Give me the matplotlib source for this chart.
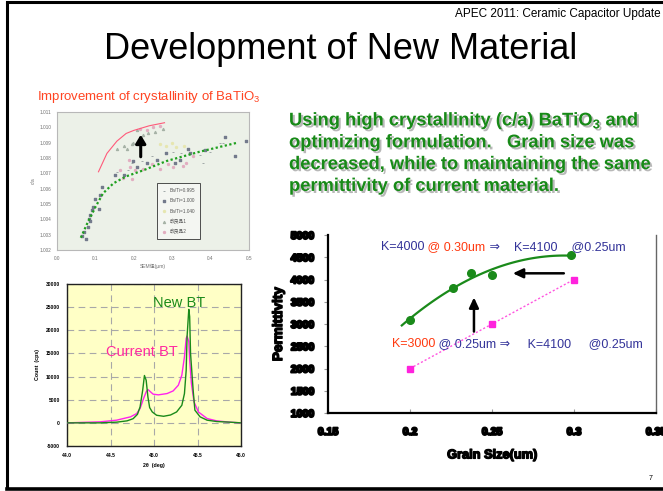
import numpy as np
import matplotlib
matplotlib.use("Agg")
import matplotlib.pyplot as plt
import matplotlib.patheffects as pe

plt.rcParams["font.family"] = ["Liberation Sans", "DejaVu Sans", "Noto Sans CJK JP"]
plt.rcParams["mathtext.fontset"] = "custom"
plt.rcParams["mathtext.rm"] = "Liberation Sans"
plt.rcParams["mathtext.bf"] = "Liberation Sans:bold"

W, H = 663, 491

# ---------------- c/a versus SEM grain size ----------------
ca_labels = ["Ba/Ti=0.995", "Ba/Ti=1.000", "Ba/Ti=1.040", "改良品1", "改良品2"]
ca_x_0995 = [0.156, 0.186, 0.195, 0.221, 0.247, 0.303, 0.324, 0.372, 0.398, 0.424, 0.433, 0.381]
ca_y_0995 = [1.0071, 1.0072, 1.0077, 1.0078, 1.0081, 1.0084, 1.0083, 1.0082, 1.0084, 1.0090, 1.0090, 1.0077]
ca_x_1000 = [0.065, 0.071, 0.076, 0.080, 0.083, 0.085, 0.087, 0.092, 0.095, 0.100, 0.109, 0.112, 0.117,
             0.151, 0.175, 0.199, 0.208, 0.234, 0.260, 0.285, 0.307, 0.320, 0.342, 0.346, 0.385,
             0.437, 0.463, 0.493]
ca_y_1000 = [1.0029, 1.0032, 1.0027, 1.0035, 1.0040, 1.0039, 1.0043, 1.0046, 1.0048, 1.0053, 1.0047, 1.0056, 1.0061,
             1.0069, 1.0069, 1.0078, 1.0074, 1.0077, 1.0079, 1.0083, 1.0077, 1.0079, 1.0086, 1.0083, 1.0085,
             1.0094, 1.0081, 1.0091]
ca_x_1040 = [0.268, 0.285, 0.300, 0.310, 0.330]
ca_y_1040 = [1.0089, 1.0088, 1.0090, 1.0087, 1.0088]
ca_x_imp1 = [0.182, 0.175, 0.195, 0.199, 0.156, 0.208, 0.225, 0.238, 0.256, 0.277]
ca_y_imp1 = [1.0086, 1.0088, 1.0089, 1.0090, 1.0086, 1.0098, 1.0095, 1.0096, 1.0097, 1.0099]
ca_x_imp2 = [0.216, 0.234, 0.251, 0.268, 0.173, 0.190, 0.195, 0.203, 0.164, 0.188, 0.225, 0.247,
             0.268, 0.290, 0.303, 0.329, 0.337, 0.355]
ca_y_imp2 = [1.0099, 1.0098, 1.0100, 1.0101, 1.0067, 1.0074, 1.0066, 1.0072, 1.0072, 1.0079, 1.0073, 1.0076,
             1.0073, 1.0076, 1.0074, 1.0075, 1.0077, 1.0081]
trend_cur_x = [0.062, 0.080, 0.100, 0.120, 0.147, 0.180, 0.225, 0.285, 0.370, 0.470]
trend_cur_y = [1.0028, 1.0038, 1.0048, 1.0057, 1.00635, 1.0068, 1.0072, 1.0078, 1.0084, 1.0090]
trend_new_x = [0.108, 0.130, 0.156, 0.180, 0.200, 0.240, 0.280]
trend_new_y = [1.0071, 1.0083, 1.0091, 1.0096, 1.0098, 1.0101, 1.0103]

# ---------------- XRD profile ----------------
xrd_new_2theta = [44.0, 44.38, 44.57, 44.69, 44.76, 44.81, 44.84, 44.87, 44.89, 44.91, 44.93, 44.95, 44.98,
                  45.03, 45.11, 45.19, 45.26, 45.32, 45.35, 45.37, 45.38, 45.40, 45.41, 45.42, 45.45,
                  45.47, 45.53, 45.61, 45.72, 45.87, 46.0]
xrd_new_count = [0, 0, 150, 430, 900, 1850, 3450, 7050, 10230, 9200, 5600, 3300, 2360,
                 1640, 1420, 1700, 2360, 3800, 6330, 11380, 18600, 24520, 22930, 15000, 7050,
                 2740, 1300, 580, 290, 150, 0]
xrd_cur_2theta = [44.0, 44.38, 44.57, 44.73, 44.80, 44.84, 44.88, 44.91, 44.93, 44.96, 44.99, 45.05, 45.15,
                  45.22, 45.28, 45.32, 45.35, 45.37, 45.38, 45.40, 45.41, 45.43, 45.46, 45.51, 45.61,
                  45.72, 45.87, 46.0]
xrd_cur_count = [0, 220, 580, 1300, 2000, 3100, 5250, 6700, 7200, 6700, 6200, 6050, 6330,
                 6900, 8140, 10300, 14270, 18240, 18750, 17520, 13550, 8500, 4530, 2360, 940,
                 430, 150, 0]

# ---------------- Permittivity versus grain size ----------------
grain_new = [0.200, 0.226, 0.237, 0.250, 0.298]
perm_new = [3100, 3800, 4150, 4100, 4550]
grain_cur = [0.20, 0.25, 0.30]
perm_cur = [2000, 3000, 4000]
grain_ticks = [0.15, 0.2, 0.25, 0.3, 0.35]
grain_ticklabels = ["0.15", "0.2", "0.25", "0.3", "0.35"]
perm_ticks = [1000, 1500, 2000, 2500, 3000, 3500, 4000, 4500, 5000]

fig = plt.figure(figsize=(W / 100, H / 100), dpi=100)
fig.patch.set_facecolor("white")


def px_axes(left, top, right, bottom, **kw):
    return fig.add_axes([left / W, 1 - bottom / H, (right - left) / W, (bottom - top) / H], **kw)


# ---- c/a chart ----
ax1 = px_axes(57, 112, 249, 250)
ax1.set_facecolor("#ecf1e8")
ax1.plot(trend_new_x, trend_new_y, color="#ff5a7a", lw=0.8, zorder=3)
ax1.plot(trend_cur_x, trend_cur_y, color="#1fa01f", lw=1.6, ls=(0, (1, 1.1)), zorder=3)
h1 = ax1.scatter(ca_x_0995, ca_y_0995, s=3, marker="_", color="#a0a8a8", lw=0.7, zorder=2)
h2 = ax1.scatter(ca_x_1000, ca_y_1000, s=2, marker="s", color="#737a8c", zorder=2)
h3 = ax1.scatter(ca_x_1040, ca_y_1040, s=2, marker="o", color="#e6e6b0", zorder=2)
h4 = ax1.scatter(ca_x_imp1, ca_y_imp1, s=2, marker="^", color="#a6b2a6", zorder=2)
h5 = ax1.scatter(ca_x_imp2, ca_y_imp2, s=2, marker="o", color="#e2adc0", zorder=2)
ax1.annotate("", xy=(0.218, 1.0097), xytext=(0.218, 1.0079),
             arrowprops=dict(arrowstyle="-|>,head_length=0.5,head_width=0.3", color="black", lw=2.2),
             zorder=4)
ax1.set_xlim(0.0, 0.5)
ax1.set_ylim(1.002, 1.011)
ax1.set_xticks(np.arange(0.0, 0.51, 0.1))
ax1.set_xticklabels([f"{v:.1f}" for v in np.arange(0.0, 0.51, 0.1)])
ax1.set_yticks(np.arange(1.002, 1.0111, 0.001))
ax1.set_yticklabels([f"{v:.3f}" for v in np.arange(1.002, 1.0111, 0.001)])
ax1.tick_params(labelsize=3.4, colors="#707070", length=0, pad=4)
for sp in ax1.spines.values():
    sp.set_color("#b8b8b8")
    sp.set_linewidth(0.8)
ax1.set_xlabel("SEM径(μm)", fontsize=3.6, color="#707070", labelpad=2)
ax1.set_ylabel("c/a", fontsize=3.6, color="#707070", labelpad=3)
leg = ax1.legend([h1, h2, h3, h4, h5], ca_labels, loc="upper left", bbox_to_anchor=(0.52, 0.485),
                 fontsize=3.4, frameon=True, fancybox=False, edgecolor="#333333", framealpha=1,
                 borderpad=1.0, labelspacing=1.15, handlelength=1.0, handletextpad=0.8,
                 labelcolor="#555555", borderaxespad=0)
leg.get_frame().set_linewidth(0.6)
leg.get_frame().set_facecolor("#f4f6f2")

# ---- XRD chart ----
ax2 = px_axes(67, 284, 241, 446)
ax2.set_facecolor("#ffffc6")
ax2.plot(xrd_cur_2theta, xrd_cur_count, color="#ff22ee", lw=1.0, zorder=3)
ax2.plot(xrd_new_2theta, xrd_new_count, color="#1a8a1a", lw=1.0, zorder=4)
ax2.set_xlim(44.0, 46.0)
ax2.set_ylim(-5000, 30000)
ax2.set_xticks([44.0, 44.5, 45.0, 45.5, 46.0])
ax2.set_xticklabels(["44.0", "44.5", "45.0", "45.5", "46.0"])
ax2.set_yticks(np.arange(-5000, 30001, 5000))
ax2.set_yticklabels([str(v) for v in range(-5000, 30001, 5000)])
ax2.grid(True, color="#a8a8a8", lw=0.8, ls=(0, (6, 4)))
ax2.set_axisbelow(True)
ax2.tick_params(labelsize=3.6, length=0, pad=5)
for lab in ax2.get_xticklabels() + ax2.get_yticklabels():
    lab.set_fontweight("bold")
for sp in ax2.spines.values():
    sp.set_color("#222222")
    sp.set_linewidth(1.0)
ax2.set_xlabel("2θ  (deg)", fontsize=3.8, fontweight="bold", labelpad=4)
ax2.set_ylabel("Count  (cps)", fontsize=3.8, fontweight="bold", labelpad=4)
ax2.text(45.29, 25800, "New BT", color="#1a8a1a", fontsize=10.5, ha="center", va="center")
ax2.text(44.86, 15400, "Current BT", color="#ff2aa0", fontsize=10.5, ha="center", va="center")

# ---- Permittivity chart ----
ax3 = px_axes(328, 235, 656, 413)
ax3.set_facecolor("none")
coef = np.polyfit(grain_new, perm_new, 2)
xfit = np.linspace(0.195, 0.298, 60)
ax3.plot(xfit, np.polyval(coef, xfit), color="#1a8a1a", lw=1.6, zorder=3)
ax3.plot(grain_new, perm_new, "o", color="#1a8a1a", ms=5.5, zorder=4)
ax3.plot(grain_cur, perm_cur, color="#ff55e0", lw=1.0, ls=(0, (1.5, 1.5)), zorder=3)
ax3.plot(grain_cur, perm_cur, "s", color="#ff22dd", ms=4.5, zorder=4)
ax3.annotate("", xy=(0.261, 4139), xytext=(0.2955, 4139),
             arrowprops=dict(arrowstyle="-|>,head_length=0.6,head_width=0.28", color="black", lw=1.8))
ax3.annotate("", xy=(0.239, 3660), xytext=(0.239, 2830),
             arrowprops=dict(arrowstyle="-|>,head_length=0.6,head_width=0.28", color="black", lw=1.8,
                             shrinkA=0))
ax3.set_xlim(0.15, 0.35)
ax3.set_ylim(1000, 5000)
ax3.set_xticks(grain_ticks)
ax3.set_xticklabels(grain_ticklabels)
ax3.set_yticks(perm_ticks)
ax3.spines["top"].set_visible(False)
ax3.spines["left"].set_linewidth(1.6)
ax3.spines["bottom"].set_linewidth(1.6)
ax3.spines["right"].set_color("#666666")
ax3.spines["right"].set_linewidth(1.0)
ax3.tick_params(axis="x", direction="in", length=3, color="#999999", pad=10)
ax3.tick_params(axis="y", direction="out", length=3, color="#999999", pad=7)
heavy = [pe.withStroke(linewidth=1.4, foreground="black")]
for lab in ax3.get_xticklabels() + ax3.get_yticklabels():
    lab.set_fontsize(7.6)
    lab.set_fontweight("bold")
    lab.set_path_effects(heavy)
ax3.set_xlabel("Grain Size(um)", fontsize=9.2, fontweight="bold", labelpad=9,
               path_effects=[pe.withStroke(linewidth=1.0, foreground="black")])
ax3.set_ylabel("Permittivity", fontsize=9.8, fontweight="bold", labelpad=4,
               path_effects=[pe.withStroke(linewidth=1.0, foreground="black")])

# ---- page overlay (frame, headings, notes) ----
pg = fig.add_axes([0, 0, 1, 1], zorder=10)
pg.set_xlim(0, W)
pg.set_ylim(H, 0)
pg.axis("off")
pg.patch.set_alpha(0)
pg.plot([7, 7], [1.5, 489], color="black", lw=2.2, solid_capstyle="butt")
pg.plot([7, W + 2], [1.5, 1.5], color="black", lw=2.2)
pg.plot([7, W + 2], [489, 489], color="black", lw=2.6)

pg.text(661, 14, "APEC 2011: Ceramic Capacitor Update", fontsize=8.5, ha="right", va="center")
pg.text(341, 49, "Development of New Material", fontsize=26, ha="center", va="center")
pg.text(37, 97, r"Improvement of crystallinity of BaTiO$_3$", fontsize=9.5, color="#ff4422",
        ha="left", va="center")
pg.text(651, 478, "7", fontsize=5, ha="center", va="center")

green_lines = [r"Using high crystallinity (c/a) BaTiO$_\mathbf{3}$ and",
               "optimizing formulation.   Grain size was",
               "decreased, while to maintaining the same",
               "permittivity of current material."]
shadow = [pe.withSimplePatchShadow(offset=(1.5, -1.5), shadow_rgbFace="#9a9a9a", alpha=0.7)]
for i, line in enumerate(green_lines):
    pg.text(289, 121 + i * 21.8, line, fontsize=13.2, fontweight="bold", color="#178a17",
            ha="left", va="center", path_effects=shadow)

renderer = fig.canvas.get_renderer()


def rich_text(x, y, parts, size):
    for s, c in parts:
        t = pg.text(x, y, s, color=c, fontsize=size, ha="left", va="center",
                    family=["Liberation Sans", "DejaVu Sans"])
        x += t.get_window_extent(renderer).width


blue = "#333399"
red = "#ff3a10"
rich_text(381, 247, [("K=4000", blue), (" @ 0.30um", red), (" ⇒    K=4100    @0.25um", blue)], 9)
rich_text(392, 344, [("K=3000", red), (" @ 0.25um ⇒     K=4100     @0.25um", blue)], 9)

fig.savefig("out.png", dpi=100)
